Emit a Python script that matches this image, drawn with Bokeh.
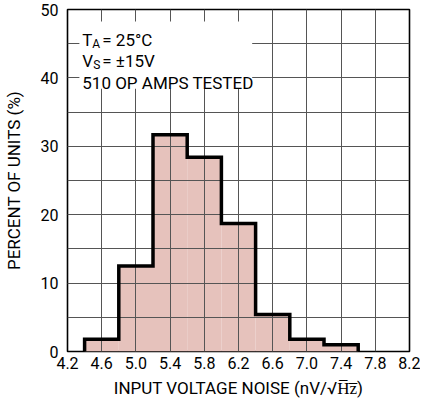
from bokeh.plotting import figure
from bokeh.models import (SingleIntervalTicker, FixedTicker, NumeralTickFormatter,
                          BoxAnnotation, Label, Range1d)
from bokeh.embed import file_html
from bokeh.resources import INLINE

# ---- data ----
bin_left = [4.4, 4.8, 5.2, 5.6, 6.0, 6.4, 6.8, 7.2]
bin_right = [4.8, 5.2, 5.6, 6.0, 6.4, 6.8, 7.2, 7.6]
percent = [1.8, 12.5, 31.7, 28.4, 18.7, 5.4, 1.8, 1.0]
x_ticks = [4.2, 4.6, 5.0, 5.4, 5.8, 6.2, 6.6, 7.0, 7.4, 7.8, 8.2]
x_label = "INPUT VOLTAGE NOISE (nV/\u221aH\u0305z\u0305)"
y_label = "PERCENT OF UNITS (%)"

FONT = "Roboto"

p = figure(width=420, height=400, output_backend="svg", toolbar_location=None,
           x_range=Range1d(4.2, 8.2), y_range=Range1d(0, 50),
           min_border_left=64, min_border_right=11, min_border_top=9,
           min_border_bottom=45)
p.background_fill_color = "white"
p.border_fill_color = "white"
p.outline_line_color = "black"
p.outline_line_width = 1.6

# histogram fill
fill = p.quad(left=bin_left, right=bin_right, bottom=0, top=percent,
              fill_color="#e6c2bc", line_color=None)
fill.level = "underlay"

# histogram outline (step path built from the bins)
ox = [bin_left[0]]
oy = [0]
for l, r, h in zip(bin_left, bin_right, percent):
    ox += [l, r]
    oy += [h, h]
ox.append(bin_right[-1])
oy.append(0)
outline = p.line(ox, oy, line_color="black", line_width=3.5, line_join="miter")
outline.level = "annotation"

# axes
p.xaxis.ticker = FixedTicker(ticks=x_ticks)
p.xaxis.formatter = NumeralTickFormatter(format="0.0")
p.yaxis.ticker = SingleIntervalTicker(interval=10, num_minor_ticks=2)
for ax in (p.xaxis[0], p.yaxis[0]):
    ax.axis_line_color = None
    ax.major_tick_line_color = None
    ax.minor_tick_line_color = None
    ax.major_tick_in = 0
    ax.major_tick_out = 0
    ax.minor_tick_in = 0
    ax.minor_tick_out = 0
    ax.major_label_text_font = FONT
    ax.major_label_text_font_size = "16px"
    ax.major_label_text_color = "black"
    ax.axis_label_text_font = FONT
    ax.axis_label_text_font_size = "17px"
    ax.axis_label_text_font_style = "normal"
    ax.axis_label_text_color = "black"
p.xaxis.axis_label = x_label
p.yaxis.axis_label = y_label
p.xaxis.major_label_standoff = 5
p.xaxis.axis_label_standoff = 6
p.yaxis.major_label_standoff = 9
p.yaxis.axis_label_standoff = 14

# grid (drawn over the fill)
p.xgrid.grid_line_color = "#555555"
p.xgrid.grid_line_width = 1
p.ygrid.grid_line_color = "#555555"
p.ygrid.grid_line_width = 1
p.ygrid.minor_grid_line_color = "#555555"
p.ygrid.minor_grid_line_width = 1
p.xgrid.level = "glyph"
p.ygrid.level = "glyph"

# annotation box
p.add_layout(BoxAnnotation(left=4.339, right=6.36, bottom=38.4, top=48.25,
                           fill_color="white", fill_alpha=1.0, line_color=None))

tx = 4.373
sz = "17px"
subsz = "12px"
def lab(x, y, text, size=sz, xo=0):
    p.add_layout(Label(x=x, y=y, x_offset=xo, text=text, text_font=FONT,
                       text_font_size=size, text_color="black",
                       text_baseline="alphabetic", text_align="left"))

lab(tx, 45.5, "T")
lab(tx, 44.92, "A", subsz, 10)
lab(tx, 45.5, "= 25\u00b0C", sz, 20)
lab(tx, 42.45, "V")
lab(tx, 41.87, "S", subsz, 11)
lab(tx, 42.45, "= \u00b115V", sz, 20)
lab(tx, 39.2, "510 OP AMPS TESTED")

open("out.html", "w").write(file_html(p, INLINE))
